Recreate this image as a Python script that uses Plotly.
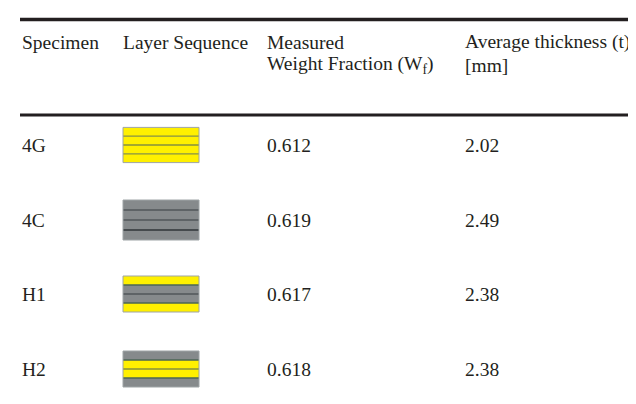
import plotly.graph_objects as go

# ---- data ----
header_line1 = ["Specimen", "Layer Sequence", "Measured", "Average thickness (t)"]
header_line2 = ["", "", "Weight Fraction (W<sub>f</sub>)", "[mm]"]
specimens = ["4G", "4C", "H1", "H2"]
layer_sequences = [["G", "G", "G", "G"],
                   ["C", "C", "C", "C"],
                   ["G", "C", "C", "G"],
                   ["C", "G", "G", "C"]]
weight_fraction = ["0.612", "0.619", "0.617", "0.618"]
avg_thickness = ["2.02", "2.49", "2.38", "2.38"]

# ---- styling / layout constants ----
W, H = 636, 404
FONT = "Liberation Serif, Times New Roman, serif"
TXT = "#231f20"
FS = 19.5
col_x = [13, 114, 258, 456]
head_y = [34, 57]
row_y = [137, 212, 286, 361]
layer_h = {"4G": 8.8, "4C": 10.0, "H1": 9.0, "H2": 9.0}
icon_x0, icon_x1 = 115, 191
fill = {"G": "#fff000", "C": "#868a8c"}

def sep_color(a, b, last=False):
    if a == "G" and b == "G":
        return "#85913e"
    if a == "C" and b == "C":
        return "#2f3538" if last else "#50565a"
    return "#4b6656"

fig = go.Figure()
fig.add_trace(go.Scatter(x=[0, W], y=[0, H], mode="markers",
                         marker=dict(opacity=0), hoverinfo="skip", showlegend=False))

shapes = []
annotations = []

# rules
shapes.append(dict(type="line", xref="x", yref="y", x0=12, x1=W, y0=11.5, y1=11.5,
                   line=dict(color=TXT, width=3.5)))
shapes.append(dict(type="line", xref="x", yref="y", x0=12, x1=W, y0=107, y1=107,
                   line=dict(color=TXT, width=3)))

def txt(x, y, s):
    annotations.append(dict(x=x, y=y, xref="x", yref="y", text=s, showarrow=False,
                            xanchor="left", yanchor="middle", align="left",
                            borderpad=0, font=dict(family=FONT, size=FS, color=TXT)))

# header
for x, l1, l2 in zip(col_x, header_line1, header_line2):
    txt(x, head_y[0], l1)
    if l2:
        txt(x, head_y[1], l2)

# body rows
for spec, seq, wf, t, yc in zip(specimens, layer_sequences, weight_fraction, avg_thickness, row_y):
    txt(col_x[0], yc, spec)
    txt(col_x[2], yc, wf)
    txt(col_x[3], yc, t)
    lh = layer_h[spec]
    n = len(seq)
    top = yc - lh * n / 2
    for i, m in enumerate(seq):
        shapes.append(dict(type="rect", xref="x", yref="y", x0=icon_x0, x1=icon_x1,
                           y0=top + i * lh, y1=top + (i + 1) * lh,
                           fillcolor=fill[m], line=dict(width=0)))
    for i in range(1, n):
        y = top + i * lh
        shapes.append(dict(type="line", xref="x", yref="y", x0=icon_x0, x1=icon_x1,
                           y0=y, y1=y,
                           line=dict(color=sep_color(seq[i - 1], seq[i], i == n - 1), width=1.3)))
    shapes.append(dict(type="rect", xref="x", yref="y", x0=icon_x0, x1=icon_x1,
                       y0=top, y1=top + lh * n, fillcolor="rgba(0,0,0,0)",
                       line=dict(color="#9ea4a6", width=1)))

fig.update_layout(
    width=W, height=H, margin=dict(l=0, r=0, t=0, b=0),
    paper_bgcolor="white", plot_bgcolor="white",
    xaxis=dict(range=[0, W], visible=False, fixedrange=True),
    yaxis=dict(range=[H, 0], visible=False, fixedrange=True),
    shapes=shapes, annotations=annotations, showlegend=False,
)

fig.write_html("out.html")
